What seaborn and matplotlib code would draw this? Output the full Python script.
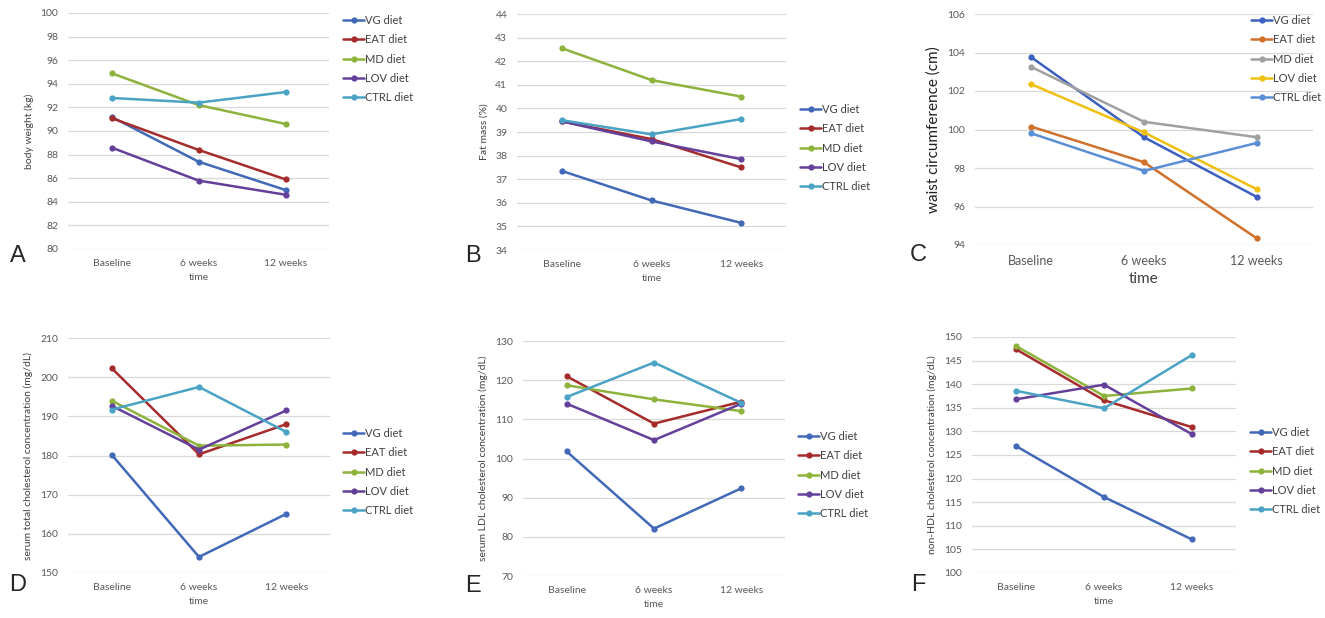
import matplotlib
matplotlib.use("Agg")
import matplotlib.pyplot as plt
import seaborn as sns
import pandas as pd

sns.set_style("white")
plt.rcParams["font.family"] = ["Lato", "DejaVu Sans"]

TIMES = ["Baseline", "6 weeks", "12 weeks"]
DIETS = ["VG diet", "EAT diet", "MD diet", "LOV diet", "CTRL diet"]

# panel A - body weight (kg)
weight_vg = [91.2, 87.4, 85.0]
weight_eat = [91.1, 88.4, 85.9]
weight_md = [94.9, 92.2, 90.6]
weight_lov = [88.6, 85.8, 84.6]
weight_ctrl = [92.8, 92.4, 93.3]

# panel B - fat mass (%)
fat_vg = [37.35, 36.1, 35.15]
fat_eat = [39.45, 38.7, 37.5]
fat_md = [42.55, 41.2, 40.5]
fat_lov = [39.45, 38.6, 37.85]
fat_ctrl = [39.5, 38.9, 39.55]

# panel C - waist circumference (cm)
waist_vg = [103.75, 99.6, 96.5]
waist_eat = [100.15, 98.3, 94.35]
waist_md = [103.25, 100.4, 99.6]
waist_lov = [102.35, 99.85, 96.9]
waist_ctrl = [99.8, 97.85, 99.3]

# panel D - total cholesterol (mg/dL)
tc_vg = [180.2, 154.1, 165.1]
tc_eat = [202.3, 180.3, 188.0]
tc_md = [194.0, 182.5, 182.8]
tc_lov = [192.7, 181.5, 191.5]
tc_ctrl = [191.7, 197.5, 186.0]

# panel E - LDL cholesterol (mg/dL)
ldl_vg = [101.8, 82.1, 92.4]
ldl_eat = [121.0, 108.9, 114.5]
ldl_md = [118.7, 115.1, 112.1]
ldl_lov = [114.0, 104.7, 114.0]
ldl_ctrl = [115.7, 124.5, 114.2]

# panel F - non-HDL cholesterol (mg/dL)
nhdl_vg = [126.9, 116.1, 107.1]
nhdl_eat = [147.4, 136.6, 130.9]
nhdl_md = [148.1, 137.5, 139.1]
nhdl_lov = [136.8, 139.9, 129.4]
nhdl_ctrl = [138.6, 134.9, 146.2]

PAL_2010 = ["#4169B8", "#A62B2B", "#8DB33C", "#64409A", "#4AA3C4"]
PAL_2013 = ["#3D5FBF", "#D0702A", "#A0A0A0", "#F0C010", "#5B8FD5"]

W, H = 1325, 618


def long_df(series):
    rows = []
    for diet, vals in zip(DIETS, series):
        for t, v in zip(TIMES, vals):
            rows.append({"time": t, "value": v, "diet": diet})
    return pd.DataFrame(rows)


panels = [
    dict(letter="A", series=[weight_vg, weight_eat, weight_md, weight_lov, weight_ctrl],
         ylabel="body weight (kg)", ylim=(80, 100), step=2, pal=PAL_2010,
         box=(68, 13, 329, 249), leg=(343, 15), lpos=(18, 256), big=False),
    dict(letter="B", series=[fat_vg, fat_eat, fat_md, fat_lov, fat_ctrl],
         ylabel="Fat mass (%)", ylim=(34, 44), step=1, pal=PAL_2010,
         box=(517, 14, 786, 250), leg=(800, 104), lpos=(473, 256), big=False),
    dict(letter="C", series=[waist_vg, waist_eat, waist_md, waist_lov, waist_ctrl],
         ylabel="waist circumference (cm)", ylim=(94, 106), step=2, pal=PAL_2013,
         box=(975, 14, 1313, 245), leg=(1251, 15), lpos=(918, 255), big=True),
    dict(letter="D", series=[tc_vg, tc_eat, tc_md, tc_lov, tc_ctrl],
         ylabel="serum total cholesterol concentration (mg/dL)", ylim=(150, 210), step=10,
         pal=PAL_2010, box=(68, 338, 330, 573), leg=(343, 428), lpos=(18, 585), big=False),
    dict(letter="E", series=[ldl_vg, ldl_eat, ldl_md, ldl_lov, ldl_ctrl],
         ylabel="serum LDL cholesterol concentration (mg/dL)", ylim=(70, 130), step=10,
         pal=PAL_2010, box=(523, 341, 785, 576), leg=(798, 431), lpos=(473, 586), big=False),
    dict(letter="F", series=[nhdl_vg, nhdl_eat, nhdl_md, nhdl_lov, nhdl_ctrl],
         ylabel="non-HDL cholesterol concentration (mg/dL)", ylim=(100, 150), step=5,
         pal=PAL_2010, box=(972, 337, 1236, 573), leg=(1250, 427), lpos=(918, 585), big=False),
]

fig = plt.figure(figsize=(W / 100, H / 100), dpi=100)

for p in panels:
    x0, y0, x1, y1 = p["box"]
    ax = fig.add_axes([x0 / W, 1 - y1 / H, (x1 - x0) / W, (y1 - y0) / H])
    df = long_df(p["series"])
    sns.lineplot(data=df, x="time", y="value", hue="diet", palette=p["pal"],
                 hue_order=DIETS, marker="o", markersize=4.5, markeredgewidth=0,
                 linewidth=1.8, sort=False, ax=ax)
    lo, hi = p["ylim"]
    ax.set_ylim(lo, hi)
    ax.set_yticks(range(lo, hi + 1, p["step"]))
    ax.set_xlim(-0.5, 2.5)
    ax.yaxis.grid(True, color="#d9d9d9", linewidth=0.9)
    ax.set_axisbelow(True)
    for s in ax.spines.values():
        s.set_visible(False)
    tick_fs = 9 if p["big"] else 7.5
    ax.tick_params(axis="both", length=0, colors="#595959")
    ax.tick_params(axis="y", labelsize=7.5, pad=7)
    ax.tick_params(axis="x", labelsize=tick_fs, pad=7)
    lab_fs = 11 if p["big"] else 7.5
    ax.set_xlabel("time", fontsize=lab_fs, color="#404040" if p["big"] else "#595959")
    ax.set_ylabel(p["ylabel"], fontsize=lab_fs, color="#202020" if p["big"] else "#404040",
                  labelpad=5)
    lx, ly = p["leg"]
    leg = ax.legend(loc="upper left", bbox_to_anchor=(lx / W, 1 - ly / H),
                    bbox_transform=fig.transFigure, frameon=False, fontsize=8,
                    handlelength=1.9, handletextpad=0.1, labelspacing=0.75,
                    borderpad=0, borderaxespad=0, title=None)
    for t in leg.get_texts():
        t.set_color("#404040")
    fx, fy = p["lpos"]
    fig.text(fx / W, 1 - fy / H, p["letter"], fontsize=17, ha="center", va="center",
             family=["Liberation Sans", "DejaVu Sans"])

fig.savefig("out.png", dpi=100, facecolor="white")
